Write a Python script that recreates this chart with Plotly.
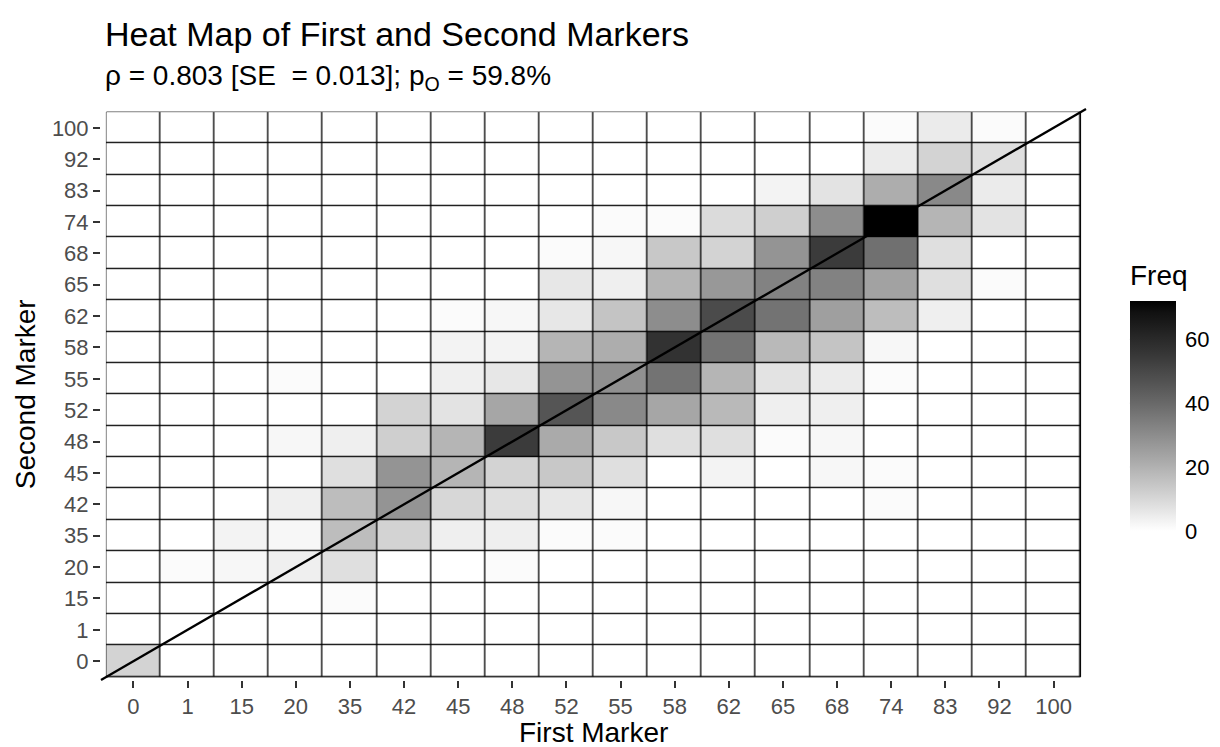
import plotly.graph_objects as go

# ---- data ----
markers = ["0", "1", "15", "20", "35", "42", "45", "48", "52", "55",
           "58", "62", "65", "68", "74", "83", "92", "100"]

# Freq counts: one row per Second Marker (bottom -> top), columns = First Marker
freq_0   = [11, 0, 0, 0, 0, 0, 0, 0, 0, 0, 0, 0, 0, 0, 0, 0, 0, 0]
freq_1   = [0, 0, 0, 0, 0, 0, 0, 0, 0, 0, 0, 0, 0, 0, 0, 0, 0, 0]
freq_15  = [0, 0, 0, 0, 1, 0, 0, 0, 0, 0, 0, 0, 0, 0, 0, 0, 0, 0]
freq_20  = [0, 1, 2, 4, 8, 0, 0, 1, 0, 0, 0, 0, 0, 0, 0, 0, 0, 0]
freq_35  = [0, 0, 3, 2, 17, 11, 4, 4, 1, 1, 0, 0, 0, 0, 0, 0, 0, 0]
freq_42  = [0, 0, 0, 4, 17, 28, 10, 8, 6, 2, 0, 0, 0, 0, 1, 0, 0, 0]
freq_45  = [0, 0, 0, 0, 8, 28, 19, 11, 14, 8, 0, 3, 0, 2, 1, 0, 0, 0]
freq_48  = [0, 0, 0, 2, 4, 12, 19, 54, 22, 14, 8, 8, 1, 2, 0, 0, 0, 0]
freq_52  = [0, 0, 0, 0, 0, 11, 7, 23, 46, 31, 23, 18, 4, 4, 0, 0, 0, 0]
freq_55  = [0, 0, 0, 1, 0, 0, 4, 6, 28, 29, 37, 19, 7, 5, 1, 0, 0, 0]
freq_58  = [0, 0, 0, 0, 0, 0, 3, 3, 19, 21, 57, 37, 18, 15, 2, 0, 0, 0]
freq_62  = [0, 0, 0, 0, 0, 0, 1, 2, 6, 15, 30, 49, 37, 25, 17, 4, 0, 0]
freq_65  = [0, 0, 0, 0, 0, 0, 0, 0, 6, 4, 19, 27, 33, 33, 24, 8, 1, 0]
freq_68  = [0, 0, 0, 0, 0, 0, 0, 0, 1, 2, 14, 11, 28, 54, 38, 8, 0, 0]
freq_74  = [0, 0, 0, 0, 0, 0, 0, 0, 0, 1, 1, 9, 12, 30, 72, 19, 7, 0]
freq_83  = [0, 0, 0, 0, 0, 0, 0, 0, 0, 0, 0, 0, 3, 7, 21, 31, 5, 0]
freq_92  = [0, 0, 0, 0, 0, 0, 0, 0, 0, 0, 0, 0, 0, 0, 5, 11, 8, 0]
freq_100 = [0, 0, 0, 0, 0, 0, 0, 0, 0, 0, 0, 0, 0, 0, 1, 5, 1, 0]

z = [freq_0, freq_1, freq_15, freq_20, freq_35, freq_42, freq_45, freq_48,
     freq_52, freq_55, freq_58, freq_62, freq_65, freq_68, freq_74, freq_83,
     freq_92, freq_100]

colorbar_ticks = [0, 20, 40, 60]

# ---- white -> black gradient interpolated in Lab lightness (as ggplot) ----
def lab_gray(L):
    fy = (L + 16) / 116
    Y = fy ** 3 if L > 8 else L / 903.3
    v = 12.92 * Y if Y <= 0.0031308 else 1.055 * Y ** (1 / 2.4) - 0.055
    g = max(0, min(255, round(255 * v)))
    return f"rgb({g},{g},{g})"

nstops = 21
colorscale = [[i / (nstops - 1), lab_gray(100 * (1 - i / (nstops - 1)))] for i in range(nstops)]

FONT = "Liberation Sans, Arial, Helvetica, sans-serif"
n = len(markers)
zmax = max(max(r) for r in z)

# page body has an 8px margin, so the figure is drawn 8px smaller and offset
OFF = 8
PLOT_L, PLOT_T = 101.3, 108.6
PLOT_W, PLOT_H = 985.1, 571.8
PLOT_B = PLOT_T + PLOT_H

# colour bar geometry (page pixels)
CB_LEFT, CB_W, CB_BOTTOM, CB_LEN = 1130, 46, 531, 230
cb_x0 = (CB_LEFT - PLOT_L) / PLOT_W
cb_x1 = (CB_LEFT + CB_W - PLOT_L) / PLOT_W
cb_y0 = (PLOT_B - CB_BOTTOM) / PLOT_H
cb_dy = CB_LEN / PLOT_H

fig = go.Figure()
fig.add_trace(go.Heatmap(
    x=markers, y=markers, z=z,
    colorscale=colorscale, zmin=0, zmax=zmax,
    xgap=1.3, ygap=1.3,
    hoverinfo="skip",
    colorbar=dict(
        thickness=CB_W, thicknessmode="pixels",
        len=CB_LEN, lenmode="pixels",
        x=cb_x0, xanchor="left", xpad=0,
        y=cb_y0, yanchor="bottom", ypad=0,
        outlinewidth=0,
        tickvals=colorbar_ticks,
        ticks="outside", ticklen=5, tickwidth=1, tickcolor="rgba(255,255,255,0)",
        tickfont=dict(size=22, color="black", family=FONT),
    ),
))

# cell borders: black backing rectangle seen through the gaps
fig.add_shape(type="rect", xref="x", yref="y",
              x0=-0.5, x1=n - 0.5, y0=-0.5, y1=n - 0.5,
              line=dict(color="black", width=1), fillcolor="black", layer="below")
# y = x reference line
fig.add_shape(type="line", xref="x domain", yref="y domain",
              x0=0, y0=0, x1=1, y1=1, line=dict(color="black", width=2.3))

# white tick dashes inside the colour bar (both edges), as in ggplot's colourbar
dash = 10 / PLOT_W
for t in colorbar_ticks:
    if t == 0:
        continue
    ty = cb_y0 + t / zmax * cb_dy
    for xa, xb in ((cb_x0, cb_x0 + dash), (cb_x1 - dash, cb_x1)):
        fig.add_shape(type="line", xref="paper", yref="paper",
                      x0=xa, x1=xb, y0=ty, y1=ty,
                      line=dict(color="#e8e8e8", width=1.2))

axis_common = dict(
    type="category", categoryorder="array", categoryarray=markers,
    range=[-0.6, n - 0.4], showgrid=False, zeroline=False, showline=False,
    ticks="outside", ticklen=7, tickwidth=1.5, tickcolor="#333333",
    tickfont=dict(size=22, color="#4D4D4D", family=FONT),
    fixedrange=True,
)
fig.update_xaxes(**axis_common)
fig.update_yaxes(**axis_common)

fig.add_annotation(text="Heat Map of First and Second Markers", xref="paper", yref="paper",
                   x=0.002, y=1 + (PLOT_T - 33) / PLOT_H, xanchor="left", yanchor="middle",
                   showarrow=False, font=dict(size=34, color="black", family=FONT))
fig.add_annotation(text="ρ = 0.803 [SE  = 0.013]; p<sub>O</sub> = 59.8%", xref="paper", yref="paper",
                   x=0.002, y=1 + (PLOT_T - 77) / PLOT_H, xanchor="left", yanchor="middle",
                   showarrow=False, font=dict(size=28, color="black", family=FONT))
fig.add_annotation(text="First Marker", xref="paper", yref="paper",
                   x=0.5, y=-(733 - PLOT_B) / PLOT_H, xanchor="center", yanchor="middle",
                   showarrow=False, font=dict(size=28, color="black", family=FONT))
fig.add_annotation(text="Second Marker", xref="paper", yref="paper",
                   x=(26 - PLOT_L) / PLOT_W, y=0.5, xanchor="center", yanchor="middle",
                   textangle=-90, showarrow=False, font=dict(size=28, color="black", family=FONT))
fig.add_annotation(text="Freq", xref="paper", yref="paper",
                   x=(CB_LEFT - 2 - PLOT_L) / PLOT_W, y=(PLOT_B - 275) / PLOT_H,
                   xanchor="left", yanchor="middle",
                   showarrow=False, font=dict(size=28, color="black", family=FONT))

fig.update_layout(
    width=1220 - OFF, height=747 - OFF,
    margin=dict(l=PLOT_L - OFF, r=1220 - PLOT_L - PLOT_W, t=PLOT_T - OFF, b=747 - PLOT_B, autoexpand=False),
    paper_bgcolor="white", plot_bgcolor="white",
    font=dict(family=FONT),
    showlegend=False,
)

fig.write_html("out.html")
